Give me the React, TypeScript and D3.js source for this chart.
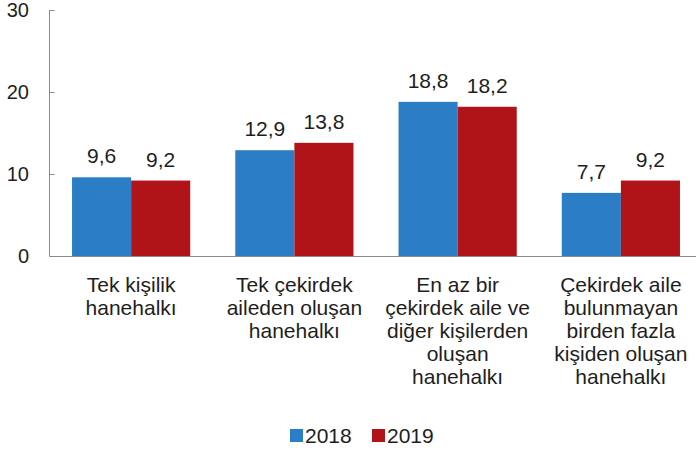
import { useMemo } from "react";
import * as d3 from "d3";

const WIDTH = 696;
const HEIGHT = 457;

const categories = ["single", "nuclear", "extended", "composite"];
const categoryLines = [
  ["Tek kişilik", "hanehalkı"],
  ["Tek çekirdek", "aileden oluşan", "hanehalkı"],
  ["En az bir", "çekirdek aile ve", "diğer kişilerden", "oluşan", "hanehalkı"],
  ["Çekirdek aile", "bulunmayan", "birden fazla", "kişiden oluşan", "hanehalkı"],
];
const seriesNames = ["2018", "2019"];
const values2018 = [9.6, 12.9, 18.8, 7.7];
const values2019 = [9.2, 13.8, 18.2, 9.2];
const yTicks = [0, 10, 20, 30];

const colors = ["#2b7ec5", "#b01419"];
const FONT = "'Liberation Sans', Arial, sans-serif";
const TEXT = "#1e1e1e";
const AXIS = "#8a8a8a";

export default function App() {
  const y = useMemo(() => d3.scaleLinear().domain([0, 30]).range([256, 10]), []);
  const x = useMemo(
    () =>
      d3
        .scaleBand<string>()
        .domain(categories)
        .range([49.5, 702.5])
        .paddingInner(0.276)
        .paddingOuter(0.138),
    []
  );
  const inner = useMemo(
    () => d3.scaleBand<string>().domain(seriesNames).range([0, x.bandwidth()]),
    [x]
  );

  const series = [values2018, values2019];
  const fmt = (v: number) => v.toFixed(1).replace(".", ",");

  return (
    <svg
      width={WIDTH}
      height={HEIGHT}
      style={{ position: "absolute", left: 0, top: 0, background: "#fff" }}
      fontFamily={FONT}
    >
      {/* y axis */}
      <line x1={49.5} x2={49.5} y1={y(30)} y2={y(0)} stroke={AXIS} strokeWidth={1} />
      {yTicks.map((t) => (
        <g key={t}>
          <line x1={49.5} x2={54.5} y1={Math.round(y(t)) + 0.5} y2={Math.round(y(t)) + 0.5} stroke={AXIS} />
          <text
            x={29}
            y={y(t)}
            dy="0.35em"
            textAnchor="end"
            fontSize={20}
            fill={TEXT}
          >
            {t}
          </text>
        </g>
      ))}

      {/* bars */}
      {categories.map((c, i) => (
        <g key={c} transform={`translate(${x(c)},0)`}>
          {series.map((vals, s) => {
            const bx = inner(seriesNames[s]) as number;
            const bw = inner.bandwidth();
            return (
              <g key={s}>
                <rect
                  x={bx}
                  y={y(vals[i])}
                  width={bw}
                  height={y(0) - y(vals[i])}
                  fill={colors[s]}
                />
                <text
                  x={bx + bw / 2}
                  y={y(vals[i]) - 14}
                  textAnchor="middle"
                  fontSize={21}
                  fill={TEXT}
                >
                  {fmt(vals[i])}
                </text>
              </g>
            );
          })}
        </g>
      ))}

      {/* baseline */}
      <line x1={49.5} x2={WIDTH} y1={y(0) + 0.5} y2={y(0) + 0.5} stroke={AXIS} />

      {/* category labels */}
      {categories.map((c, i) => (
        <text
          key={c}
          x={(x(c) as number) + x.bandwidth() / 2}
          y={292}
          textAnchor="middle"
          fontSize={21}
          fill={TEXT}
        >
          {categoryLines[i].map((line, j) => (
            <tspan key={j} x={(x(c) as number) + x.bandwidth() / 2} dy={j === 0 ? 0 : 23}>
              {line}
            </tspan>
          ))}
        </text>
      ))}

      {/* legend */}
      {seriesNames.map((name, s) => {
        const lx = 290 + s * 82;
        return (
          <g key={name}>
            <rect x={lx} y={429} width={13} height={13} fill={colors[s]} />
            <text x={lx + 15} y={443} fontSize={21} fill={TEXT}>
              {name}
            </text>
          </g>
        );
      })}
    </svg>
  );
}
